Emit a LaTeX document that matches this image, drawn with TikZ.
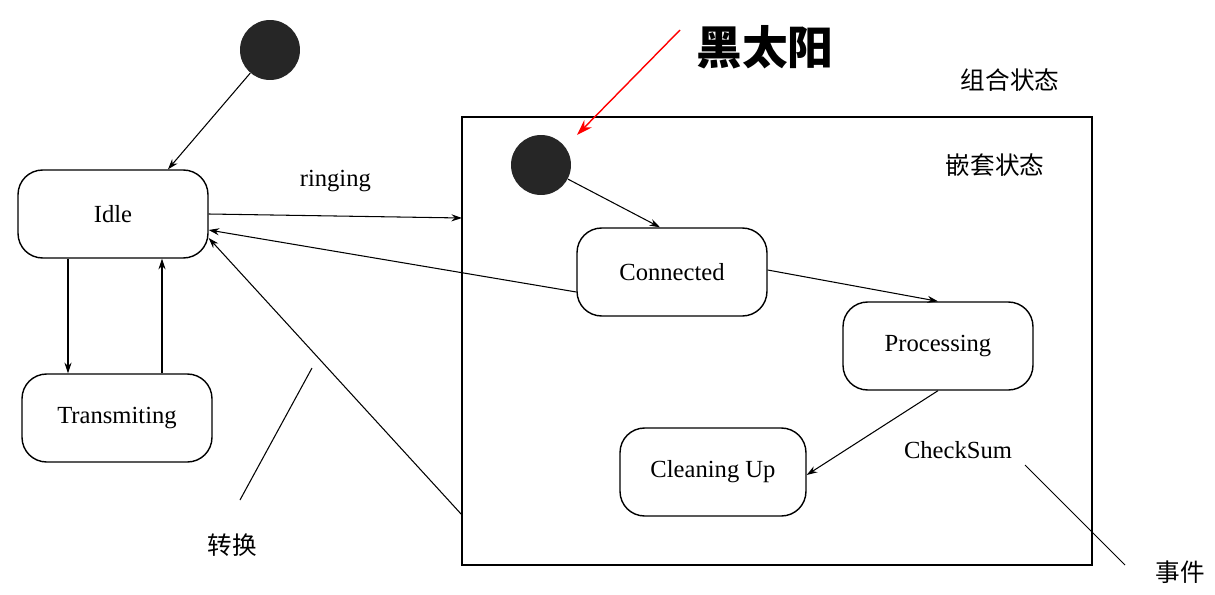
\documentclass[tikz,border=0pt]{standalone}
\usepackage{fontspec}
\setmainfont{Liberation Serif}
\newfontfamily\cjk{Noto Sans CJK SC}
\usetikzlibrary{positioning,arrows.meta}
\tikzset{
	zhuangtai/.style={rectangle, rounded corners=14pt, draw, thick, minimum width=3.8cm,
		minimum height=1.76cm, font=\fontsize{14}{16}\selectfont},
	chushi/.style={circle, fill=black!85, minimum size=1.2cm, inner sep=0pt},
	jiantou/.style={-{Stealth[length=6pt,width=4pt]}, semithick},
	biaozhu/.style={font=\cjk\fontsize{14}{16}\selectfont}
}
\begin{document}
\begin{tikzpicture}[x=0.02cm, y=-0.02cm]
	\useasboundingbox[fill=white] (0,0) rectangle (1215,595);
	% composite state
	\draw[thick] (462,117) rectangle (1092,565);
	\coordinate (zuheL) at (462,218);
	\coordinate (zuheLB) at (462,515);
	
	\node[chushi] (start) at (270,50) {};
	\node[zhuangtai] (idle) at (113,214) {Idle};
	\node[zhuangtai] (trans) at (117,418) {Transmiting};
	
	\node[chushi] (start2) at (541,165) {};
	\node[zhuangtai] (conn) at (672,272) {Connected};
	\node[zhuangtai] (proc) at (938,346) {Processing};
	\node[zhuangtai, minimum width=3.72cm] (clean) at (713,472) {Cleaning Up};
	
	\draw[jiantou] (start) -- (idle.north east -| 168,0);
	\draw[jiantou] (idle.south west -| 68,0) -- (trans.north west -| 68,0);
	\draw[jiantou] (trans.north west -| 162,0) -- (idle.south west -| 162,0);
	\draw[jiantou] (idle.east) -- node[above=10pt, font=\fontsize{14}{16}\selectfont] {ringing} (zuheL);
	\draw[jiantou] (conn.west |- 0,292) -- (idle.east |- 0,230);
	\draw[jiantou] (zuheLB) -- (idle.east |- 0,238);
	\draw[jiantou] (start2) -- (conn.north west -| 660,0);
	\draw[jiantou] (conn.east |- 0,270) -- (proc.north);
	\draw[jiantou] (proc.south) -- (clean.east |- 0,475);
	
	% labels
	\node[biaozhu] (zuhe) at (1010,80) {组合状态};
	\node[biaozhu] (qiantao) at (995,165) {嵌套状态};
	\node[font=\fontsize{14}{16}\selectfont] (cs) at (958,450) {CheckSum};
	\node[biaozhu] (shijian) at (1180,572) {事件};
	\node[biaozhu] (zhuanhuan) at (232,545) {转换};
	\coordinate (zhA) at (240,500);
	\coordinate (zhB) at (312,368);
	\draw[semithick] (zhA) -- (zhB);
	\coordinate (sjA) at (1025,465);
	\coordinate (sjB) at (1125,565);
	\draw[semithick] (sjA) -- (sjB);
	
	% red note
	\node[font=\cjk\bfseries\fontsize{26}{30}\selectfont] (hei) at (765,47) {黑太阳};
	\coordinate (redA) at (680,30);
	\coordinate (redB) at (577,135);
	\draw[red, thick, -{Stealth[length=9pt,width=6pt]}] (redA) -- (redB);
\end{tikzpicture}
\end{document}
